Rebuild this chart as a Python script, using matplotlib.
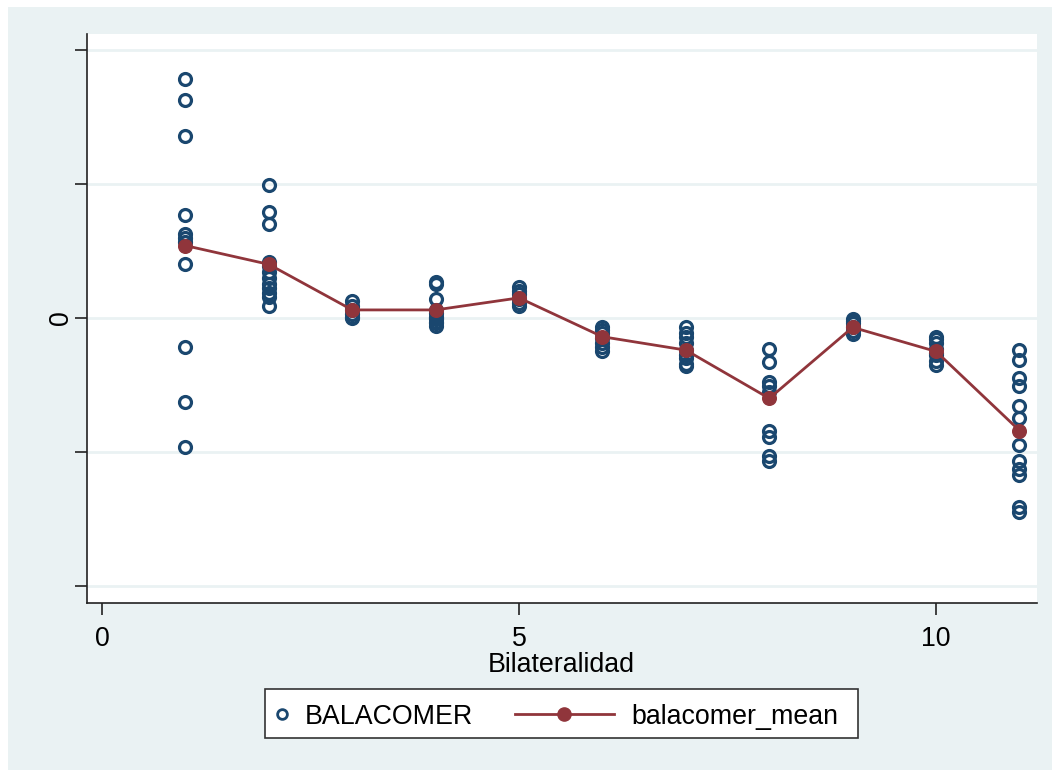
import matplotlib
matplotlib.use("Agg")
import matplotlib.pyplot as plt
from matplotlib.lines import Line2D
from matplotlib.patches import Rectangle

plt.rcParams['font.family'] = ['Liberation Sans', 'DejaVu Sans']

# ---- data ----
groups = [1, 2, 3, 4, 5, 6, 7, 8, 9, 10, 11]
balacomer = [
    [1.78, 1.63, 1.36, 0.77, 0.63, 0.60, 0.57, 0.40, -0.22, -0.63, -0.96],
    [0.99, 0.79, 0.70, 0.42, 0.39, 0.34, 0.30, 0.25, 0.22, 0.19, 0.16, 0.09],
    [0.13, 0.09, 0.06, 0.03, 0.01, 0.00],
    [0.27, 0.25, 0.14, 0.06, 0.04, 0.01, 0.00, -0.01, -0.03, -0.04, -0.06],
    [0.23, 0.20, 0.18, 0.14, 0.11, 0.09],
    [-0.07, -0.09, -0.11, -0.15, -0.19, -0.22, -0.25],
    [-0.07, -0.11, -0.14, -0.19, -0.24, -0.28, -0.30, -0.34, -0.36],
    [-0.23, -0.33, -0.48, -0.51, -0.55, -0.84, -0.89, -1.03, -1.07],
    [-0.01, -0.02, -0.04, -0.07, -0.10, -0.12],
    [-0.14, -0.16, -0.19, -0.23, -0.26, -0.28, -0.32, -0.35],
    [-0.24, -0.31, -0.45, -0.51, -0.66, -0.75, -0.95, -1.07, -1.13, -1.17, -1.41, -1.45],
]
balacomer_mean = [0.54, 0.40, 0.06, 0.06, 0.15, -0.14, -0.24, -0.60, -0.07, -0.25, -0.84]

x_ticks = [0, 5, 10]
x_ticklabels = ["0", "5", "10"]
y_ticks = [-2, -1, 0, 1, 2]
y_ticklabels = ["", "", "0", "", ""]
legend_labels = ["BALACOMER", "balacomer_mean"]

NAVY = "#1A476F"
MAROON = "#90353B"
BG = "#EAF2F3"
FS = 19.3

W, H = 1052, 770
fig = plt.figure(figsize=(W / 100, H / 100), dpi=100)
fig.patch.set_facecolor("white")
fig.patches.append(Rectangle((8 / W, 0), 1 - 8 / W, 1 - 7 / H, transform=fig.transFigure,
                             facecolor=BG, edgecolor="none", zorder=-10))

left, right, top, bottom = 86.5, 1037, 34, 603
ax = fig.add_axes([left / W, 1 - bottom / H, (right - left) / W, (bottom - top) / H])
ax.set_facecolor("white")

xs, ys = [], []
for g, vals in zip(groups, balacomer):
    xs.extend([g] * len(vals))
    ys.extend(vals)
ax.plot(xs, ys, linestyle="none", marker="o", markersize=8.6, markerfacecolor="none",
        markeredgecolor=NAVY, markeredgewidth=2.3, zorder=3)
ax.plot(groups, balacomer_mean, color=MAROON, linewidth=2.0, marker="o", markersize=9.8,
        markerfacecolor=MAROON, markeredgecolor=MAROON, markeredgewidth=1, zorder=4)

ax.set_xlim(-0.186, 11.21)
ax.set_ylim(-2.127, 2.119)
ax.set_xticks(x_ticks)
ax.set_xticklabels(x_ticklabels)
ax.set_yticks(y_ticks)
ax.set_yticklabels(y_ticklabels, rotation=90, va="center")

ax.grid(axis="y", color=BG, linewidth=2.0, zorder=0)
ax.grid(axis="x", visible=False)
ax.set_axisbelow(True)

for s in ["top", "right"]:
    ax.spines[s].set_visible(False)
for s in ["left", "bottom"]:
    ax.spines[s].set_color("#222222")
    ax.spines[s].set_linewidth(1.2)

ax.tick_params(axis="both", direction="out", length=8.5, width=1.2, color="#222222",
               labelsize=FS, labelcolor="black")
ax.tick_params(axis="x", pad=8)
ax.tick_params(axis="y", pad=0.5)

ax.set_xlabel("Bilateralidad", fontsize=FS, labelpad=0)

# ---- legend (Stata-style layout, drawn in figure pixels) ----
def fx(px):
    return px / W

def fy(py):
    return 1 - py / H

fig.add_artist(Rectangle((fx(265), fy(738)), fx(858) - fx(265), fy(689) - fy(738),
                         transform=fig.transFigure, facecolor="white",
                         edgecolor="#333333", linewidth=1.2, zorder=5))
yc = 713.5
fig.add_artist(Line2D([fx(282)], [fy(yc)], linestyle="none", marker="o", markersize=7.0,
                      markerfacecolor="none", markeredgecolor=NAVY, markeredgewidth=2.0,
                      transform=fig.transFigure, zorder=6))
fig.text(fx(305), fy(yc), legend_labels[0], fontsize=FS, va="center_baseline", ha="left",
         zorder=6)
fig.add_artist(Line2D([fx(515), fx(614)], [fy(yc), fy(yc)], color=MAROON, linewidth=2.0,
                      transform=fig.transFigure, zorder=6))
fig.add_artist(Line2D([fx(564)], [fy(yc)], linestyle="none", marker="o", markersize=9.5,
                      markerfacecolor=MAROON, markeredgecolor=MAROON,
                      transform=fig.transFigure, zorder=7))
fig.text(fx(631), fy(yc), legend_labels[1], fontsize=FS, va="center_baseline", ha="left",
         zorder=6)

fig.savefig("out.png", dpi=100, facecolor=fig.get_facecolor())
